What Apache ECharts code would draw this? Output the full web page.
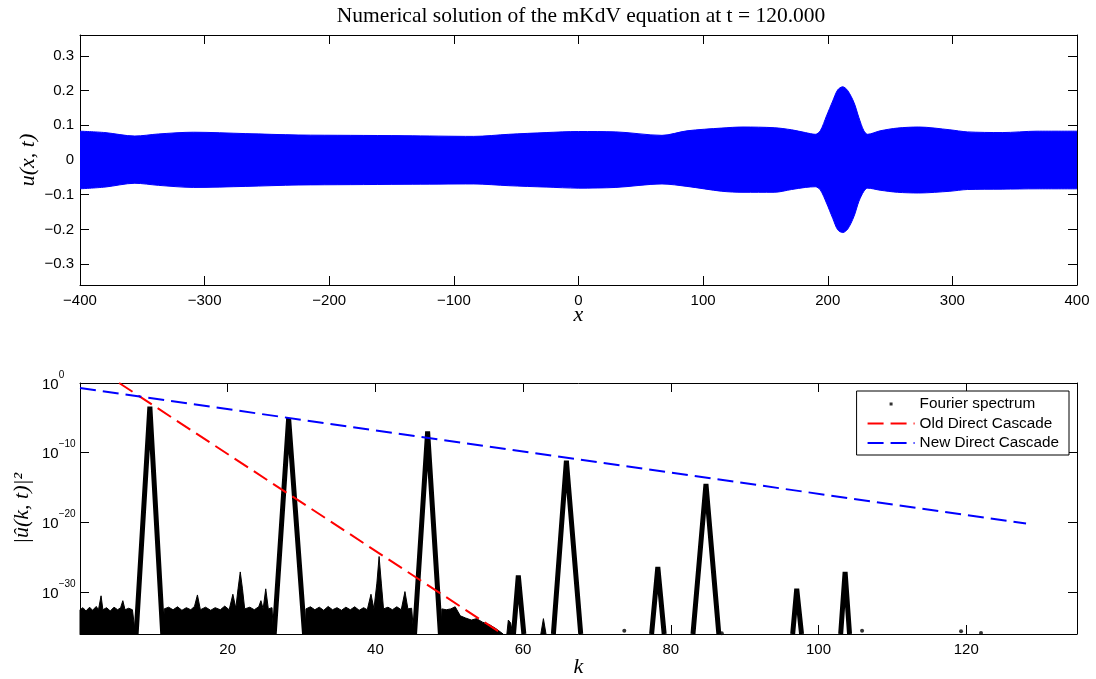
<!DOCTYPE html>
<html><head><meta charset="utf-8">
<script src="https://cdn.jsdelivr.net/npm/echarts@6/dist/echarts.min.js"></script>
<style>html,body{margin:0;padding:0;background:#fff;}#c{width:1096px;height:679px;}</style>
</head><body><div id="c"></div>
<script>
const titleText = 'Numerical solution of the mKdV equation at t = 120.000';

// ---- top panel: envelope of u(x,t) ----
const bandX = [-400,-380,-356,-337,-309,-267,-225,-183,-140,-84,-56,-26,0,30,67,87,115,132,157,171,182,190,194,199,204,208,212,216,221,225,229,232,242,256,273,298,312,340,368,400];
const bandUpper = [0.083,0.079,0.069,0.075,0.080,0.076,0.072,0.071,0.070,0.068,0.074,0.079,0.082,0.081,0.071,0.084,0.092,0.095,0.093,0.087,0.079,0.074,0.084,0.127,0.170,0.202,0.211,0.200,0.166,0.122,0.084,0.074,0.084,0.092,0.095,0.087,0.081,0.079,0.083,0.083];
const bandLower = [-0.083,-0.078,-0.067,-0.073,-0.079,-0.076,-0.072,-0.071,-0.070,-0.069,-0.074,-0.078,-0.081,-0.079,-0.069,-0.076,-0.090,-0.093,-0.093,-0.085,-0.079,-0.077,-0.086,-0.124,-0.168,-0.201,-0.209,-0.199,-0.163,-0.119,-0.090,-0.081,-0.087,-0.093,-0.095,-0.090,-0.085,-0.084,-0.083,-0.083];

// ---- bottom panel: Fourier spectrum ----
const spectrumFloor = 1e-36;
const noiseK = [
 0,0,0.4,0.8,1.3,1.7,2.2,2.5,2.85,3.1,3.6,4.1,4.6,5.1,5.5,5.8,6.1,6.6,7.1,7.5,null,
 11.3,11.4,12.0,12.6,13.2,13.8,14.4,15.0,15.5,15.9,16.3,17.0,17.7,18.3,19.0,19.6,20.2,20.7,21.1,21.4,21.7,22.0,22.3,23.0,23.6,24.2,24.5,24.8,25.15,25.5,26.0,26.2,null,
 30.5,30.6,31.2,31.8,32.4,33.0,33.6,34.2,34.8,35.4,36.0,36.6,37.2,37.8,38.4,38.9,39.4,39.8,40.2,40.5,40.8,41.1,41.7,42.3,42.9,43.5,44.0,44.4,44.9,45.2,null,
 48.9,49.0,49.6,50.2,50.8,51.5,52.2,53.0,53.7,54.5,55.5,56.3,57.3,null,
 57.8,58.0,58.3,58.6,null,
 62.4,62.75,63.1];
const noiseVal = [
 1e-36,3e-33,6e-33,2e-33,7e-33,2.5e-33,9e-33,3e-33,3e-31,3e-33,6e-33,2e-33,7e-33,3e-33,6e-33,6e-32,3e-33,5e-33,3e-33,1e-36,null,
 1e-36,4e-33,7e-33,3e-33,8e-33,2.5e-33,6e-33,3e-33,9e-33,4e-31,3e-33,7e-33,2.5e-33,6e-33,3e-33,1e-32,3e-33,5e-31,5e-33,3e-30,8e-28,3e-30,4e-33,7e-33,3e-33,8e-33,6e-32,4e-33,3e-30,4e-33,6e-33,1e-36,null,
 1e-36,4e-33,8e-33,3e-33,7e-33,2.5e-33,9e-33,3e-33,6e-33,2.5e-33,7e-33,3e-33,8e-33,2.5e-33,6e-33,3e-33,5e-31,4e-33,2e-29,1.3e-25,2e-29,4e-33,7e-33,3e-33,8e-33,3e-33,1.2e-30,4e-33,5e-33,1e-36,null,
 1e-36,4e-33,3e-33,4e-33,8e-33,4e-34,2e-34,1e-34,1.6e-34,5e-35,2e-35,6e-36,1e-36,null,
 1e-36,1e-34,4e-35,1e-36,null,
 1e-36,1.6e-34,1e-36];
const peakApexK   = [9.46, 28.25, 47.07, 59.35, 65.86, 78.24, 84.76, 97.05, 103.6];
const peakApexVal = [4e-4, 9e-6, 1.1e-7, 2.5e-28, 7.4e-12, 4e-27, 3.2e-15, 3e-30, 8e-28];
const peakLeftK   = [7.6, 26.3, 45.3, 58.7, 64.1, 77.4, 83.0, 96.5, 103.0];
const peakRightK  = [11.2, 30.4, 48.8, 60.1, 67.8, 79.1, 86.5, 97.7, 104.2];
const dotK   = [73.7, 86.9, 105.9, 119.3, 122.0];
const dotVal = [3e-36, 1.3e-36, 3e-36, 2.5e-36, 1.4e-36];
const oldCascadeK = [5.3, 57.2];
const oldCascadeVal = [1, 1e-36];
const newCascadeK = [0, 128.1];
const newCascadeVal = [0.19, 7e-21];

const SANS = 'Liberation Sans';
const SERIF = 'Liberation Serif';
const minus = v => v < 0 ? '\u2212' + String(-v) : String(v);

function baseAxis(extra) {
  return Object.assign({
    axisLine: { onZero: false, lineStyle: { color: '#000', width: 1 } },
    axisTick: { inside: true, length: 9, lineStyle: { color: '#000' } },
    splitLine: { show: false },
    nameMoveOverlap: false,
    axisLabel: { color: '#000', fontFamily: SANS, fontSize: 15 }
  }, extra);
}
const nameStyle = { fontFamily: SERIF, fontStyle: 'italic', fontSize: 22, color: '#000' };

const upperData = bandX.map((x, i) => [x, bandUpper[i]]);
const lowerData = bandX.map((x, i) => [x, bandLower[i]]);
const noiseData = noiseK.map((k, i) => k === null ? ['-', '-'] : [k, noiseVal[i]]);
const peakData = [];
peakApexK.forEach((k, i) => {
  peakData.push([peakLeftK[i], spectrumFloor], [k, peakApexVal[i]], [peakRightK[i], spectrumFloor], ['-', '-']);
});
const dotData = dotK.map((k, i) => [k, dotVal[i]]);
const oldData = oldCascadeK.map((k, i) => [k, oldCascadeVal[i]]);
const newData = newCascadeK.map((k, i) => [k, newCascadeVal[i]]);

const chart = echarts.init(document.getElementById('c'), null, { renderer: 'canvas' });
chart.setOption({
  animation: false,
  backgroundColor: '#fff',
  title: {
    text: titleText, left: 581, top: 5, textAlign: 'center', padding: 0,
    textStyle: { fontFamily: SERIF, fontSize: 21.5, fontWeight: 'normal', color: '#000' }
  },
  grid: [
    { left: 80, right: 19, top: 35, height: 250, outerBoundsMode: 'none', containLabel: false },
    { left: 80, right: 19, top: 383, height: 251, outerBoundsMode: 'none', containLabel: false }
  ],
  xAxis: [
    baseAxis({ gridIndex: 0, type: 'value', min: -400, max: 400, interval: 100,
      axisLabel: { color: '#000', fontFamily: SANS, fontSize: 15, margin: 8, formatter: minus },
      name: 'x', nameLocation: 'middle', nameGap: 19, nameTextStyle: nameStyle }),
    baseAxis({ gridIndex: 0, type: 'value', position: 'top', min: -400, max: 400, interval: 100, axisLabel: { show: false } }),
    baseAxis({ gridIndex: 1, type: 'value', min: 0, max: 135, interval: 20,
      axisLabel: { color: '#000', fontFamily: SANS, fontSize: 15, margin: 8,
        formatter: v => (v > 0 && v <= 120 && v % 20 === 0) ? String(v) : '' },
      name: 'k', nameLocation: 'middle', nameGap: 22, nameTextStyle: nameStyle }),
    baseAxis({ gridIndex: 1, type: 'value', position: 'top', min: 0, max: 135, interval: 20, axisLabel: { show: false } })
  ],
  yAxis: [
    baseAxis({ gridIndex: 0, type: 'value', min: -0.36, max: 0.36,
      axisLabel: { color: '#000', fontFamily: SANS, fontSize: 15, margin: 6,
        formatter: v => {
          const r = Math.round(v * 10) / 10;
          if (Math.abs(v - r) > 1e-6 || Math.abs(r) > 0.3 + 1e-9) return '';
          if (r === 0) return '0';
          return r < 0 ? '\u2212' + (-r).toFixed(1) : r.toFixed(1);
        } },
      name: 'u(x, t)', nameLocation: 'middle', nameGap: 41, nameRotate: 90, nameTextStyle: nameStyle }),
    baseAxis({ gridIndex: 0, type: 'value', position: 'right', min: -0.36, max: 0.36, axisLabel: { show: false } }),
    baseAxis({ gridIndex: 1, type: 'log', logBase: 10, min: 1e-36, max: 1,
      axisLabel: { color: '#000', fontFamily: SANS, margin: 38, align: 'left', padding: [0, 0, 4, 0],
        formatter: v => {
          const e = Math.round(Math.log10(v));
          if (e % 10 !== 0 || e < -30) return '';
          return '{b|10}{s|' + (e === 0 ? '0' : '\u2212' + (-e)) + '}{h|}';
        },
        rich: {
          b: { fontFamily: SANS, fontSize: 15, lineHeight: 14, verticalAlign: 'bottom', color: '#000' },
          s: { fontFamily: SANS, fontSize: 10, lineHeight: 10, verticalAlign: 'top', color: '#000' },
          h: { fontSize: 1, lineHeight: 22, width: 0 }
        } },
      name: '|\u00fb(k, t)|\u00b2', nameLocation: 'middle', nameGap: 47, nameRotate: 90, nameTextStyle: nameStyle }),
    baseAxis({ gridIndex: 1, type: 'log', logBase: 10, position: 'right', min: 1e-36, max: 1, axisLabel: { show: false } })
  ],
  legend: {
    data: [
      { name: 'Fourier spectrum', icon: 'path://M0,0M20,14M8.5,5.5h3v3h-3z' },
      { name: 'Old Direct Cascade', itemStyle: { opacity: 0 } },
      { name: 'New Direct Cascade', itemStyle: { opacity: 0 } }
    ],
    orient: 'vertical', right: 27, top: 391,
    itemWidth: 47, itemHeight: 14, itemGap: 3.5,
    padding: [5, 10, 4, 10],
    borderColor: '#000', borderWidth: 1, backgroundColor: '#fff', borderRadius: 0,
    textStyle: { fontFamily: SANS, fontSize: 15.3, color: '#000', lineHeight: 16 },
    selectedMode: false
  },
  series: [
    { type: 'line', name: 'u upper', xAxisIndex: 0, yAxisIndex: 0, data: upperData, symbol: 'none', smooth: 0.3,
      lineStyle: { color: '#0000ff', width: 1 }, areaStyle: { color: '#0000ff', opacity: 1 } },
    { type: 'line', name: 'u lower', xAxisIndex: 0, yAxisIndex: 0, data: lowerData, symbol: 'none', smooth: 0.3,
      lineStyle: { color: '#0000ff', width: 1 }, areaStyle: { color: '#0000ff', opacity: 1 } },
    { type: 'line', name: 'noise', xAxisIndex: 2, yAxisIndex: 2, data: noiseData, symbol: 'none',
      lineStyle: { color: '#000', width: 1 }, areaStyle: { color: '#000', opacity: 1, origin: 'start' }, z: 2 },
    { type: 'line', name: 'peaks', xAxisIndex: 2, yAxisIndex: 2, data: peakData, symbol: 'none',
      lineStyle: { color: '#000', width: 5, join: 'miter' }, z: 3 },
    { type: 'scatter', name: 'Fourier spectrum', xAxisIndex: 2, yAxisIndex: 2, data: dotData,
      symbol: 'circle', symbolSize: 4, itemStyle: { color: '#000' }, z: 3 },
    { type: 'line', name: 'Old Direct Cascade', xAxisIndex: 2, yAxisIndex: 2, data: oldData, symbol: 'none',
      itemStyle: { color: '#ff0000' }, lineStyle: { color: '#ff0000', width: 2, type: [16, 7] }, z: 5 },
    { type: 'line', name: 'New Direct Cascade', xAxisIndex: 2, yAxisIndex: 2, data: newData, symbol: 'none',
      itemStyle: { color: '#0000ff' }, lineStyle: { color: '#0000ff', width: 2, type: [16, 7] }, z: 5 }
  ]
});
</script></body></html>
